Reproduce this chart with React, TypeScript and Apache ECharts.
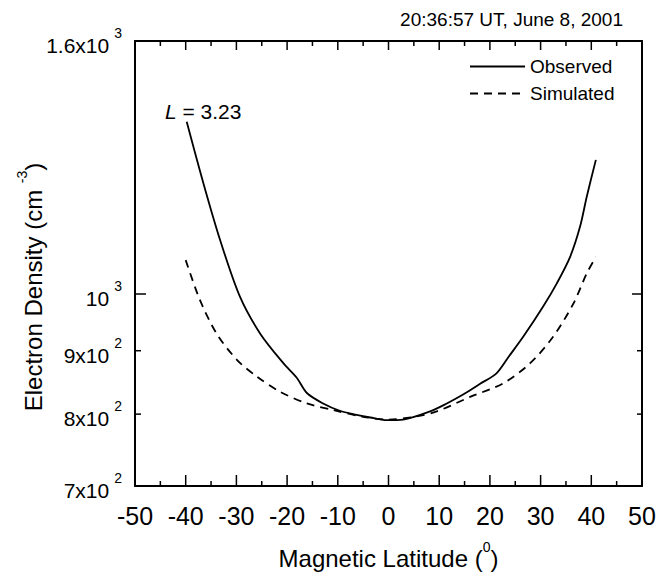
import React, { useEffect, useRef } from "react";
import * as echarts from "echarts";

const latObserved = [-39.8, -36.5, -33.2, -29.3, -25.3, -20.7, -18.1, -16.1, -12.9, -9.6, -6.3, -3.6, -0.35, 2.9, 8.2, 11.5, 14.8, 18.0, 21.3, 23.7, 26.6, 30.5, 33.2, 35.8, 37.8, 39.1, 40.9];
const densObserved = [1377, 1228, 1105, 995, 929, 879, 856, 832, 816, 805, 799, 795, 791, 792, 804, 816, 830, 846, 863, 890, 924, 977, 1020, 1071, 1134, 1198, 1283];

const latSimulated = [-40, -37.2, -33.9, -29.9, -26, -21.4, -16.1, -10.9, -5, 0, 5, 9.5, 16.1, 22.6, 27.9, 32.5, 36.5, 39.1, 40.9];
const densSimulated = [1065, 989, 929, 885, 858, 834, 816, 806, 796, 792, 796, 804, 826, 847, 879, 924, 983, 1039, 1071];

const yTickValues = [700, 800, 900, 1000, 1600];
const yTickMantissa = ["7x10", "8x10", "9x10", "10", "1.6x10"];
const yTickExponent = ["2", "2", "2", "3", "3"];
const yMajorTicks = [1000];
const yMinorTicks = [800, 900];
const xMajorTicks = [-50, -40, -30, -20, -10, 0, 10, 20, 30, 40, 50];
const xMinorTicks = [-45, -35, -25, -15, -5, 5, 15, 25, 35, 45];

const seriesNames = ["Observed", "Simulated"];
const titleText = "20:36:57 UT, June 8, 2001";
const shellLabel = "3.23";

const FONT = "'Liberation Sans', Arial, Helvetica, sans-serif";

function zip(xs: number[], ys: number[]) {
  return xs.map((x, i) => [x, ys[i]]);
}

export default function App() {
  const ref = useRef<HTMLDivElement>(null);
  useEffect(() => {
    if (!ref.current) return;
    const chart = echarts.init(ref.current, null, { renderer: "svg" });
    const supRich = (base: number, sup: number, lh: number, gap = 0) => ({
      b: { fontSize: base, lineHeight: lh, verticalAlign: "bottom", color: "#000", fontFamily: FONT },
      s: { fontSize: sup, lineHeight: sup, verticalAlign: "top", color: "#000", fontFamily: FONT, padding: [0, 0, 0, gap] },
    });
    const frameLine = () => ({ show: true, onZero: false, lineStyle: { color: "#000", width: 2 } });
    const yMin = 700;
    const yMax = 1600;
    const xMin = -50;
    const xMax = 50;

    const textGraphics: any[] = [
      {
        type: "text",
        left: 165,
        top: 101,
        style: {
          text: `{i|L} = ${shellLabel}`,
          fontSize: 21,
          fontFamily: FONT,
          fill: "#000",
          rich: { i: { fontStyle: "italic", fontSize: 21, fontFamily: FONT } },
        },
      },
      {
        type: "text",
        x: 30,
        y: 287,
        rotation: Math.PI / 2,
        style: {
          text: "{b|Electron Density (cm }{s|-3}{b|)}",
          align: "center",
          verticalAlign: "middle",
          rich: supRich(24, 14, 30),
        },
      },
    ];

    const option: any = {
      animation: false,
      backgroundColor: "#fff",
      title: {
        text: titleText,
        right: 47,
        top: 10,
        padding: 0,
        textStyle: { fontSize: 19, fontWeight: "normal", color: "#000", fontFamily: FONT },
      },
      legend: {
        data: seriesNames,
        orient: "vertical",
        left: 464,
        top: 52,
        itemWidth: 55,
        itemHeight: 14,
        itemGap: 8,
        itemStyle: { opacity: 0 },
        textStyle: { fontSize: 19, color: "#000", fontFamily: FONT },
      },
      grid: { left: 135, top: 41, width: 507, height: 445, containLabel: false, outerBoundsMode: "none" },
      xAxis: [
        {
          type: "value",
          min: xMin,
          max: xMax,
          interval: 10,
          position: "bottom",
          splitLine: { show: false },
          axisLine: frameLine(),
          axisTick: { show: false },
          axisLabel: { fontSize: 25, color: "#000", fontFamily: FONT, margin: 17 },
          name: "{b|Magnetic Latitude (}{s|0}{b|)}",
          nameLocation: "middle",
          nameGap: 54,
          nameTextStyle: { rich: supRich(24, 14, 30) },
        },
        {
          type: "value",
          min: xMin,
          max: xMax,
          interval: 10,
          position: "top",
          splitLine: { show: false },
          axisLine: frameLine(),
          axisTick: { show: false },
          axisLabel: { show: false },
        },
      ],
      yAxis: [
        {
          type: "log",
          logBase: 10,
          min: yMin,
          max: yMax,
          position: "left",
          splitLine: { show: false },
          axisLine: frameLine(),
          axisTick: { show: false },
          axisLabel: {
            customValues: yTickValues,
            margin: 13,
            formatter: (v: number) => {
              let idx = 0;
              let best = Infinity;
              yTickValues.forEach((t, i) => {
                const d = Math.abs(t - v);
                if (d < best) {
                  best = d;
                  idx = i;
                }
              });
              return `{b|${yTickMantissa[idx]}}{s|${yTickExponent[idx]}}`;
            },
            rich: supRich(21, 14, 30, 5),
          },
        },
        {
          type: "log",
          logBase: 10,
          min: yMin,
          max: yMax,
          position: "right",
          splitLine: { show: false },
          axisLine: frameLine(),
          axisTick: { show: false },
          axisLabel: { show: false },
        },
      ],
      series: [
        {
          name: seriesNames[0],
          type: "line",
          xAxisIndex: 0,
          yAxisIndex: 0,
          data: zip(latObserved, densObserved),
          symbol: "none",
          showSymbol: false,
          smooth: 0.3,
          lineStyle: { color: "#000", width: 1.8, type: "solid" },
          itemStyle: { color: "#000" },
        },
        {
          name: seriesNames[1],
          type: "line",
          xAxisIndex: 0,
          yAxisIndex: 0,
          data: zip(latSimulated, densSimulated),
          symbol: "none",
          showSymbol: false,
          smooth: 0.3,
          lineStyle: { color: "#000", width: 1.8, type: [8, 6] },
          itemStyle: { color: "#000" },
        },
      ],
      graphic: textGraphics,
    };
    chart.setOption(option);

    // Tick marks: pixel positions come from the chart's own layout and axis scales.
    const conv = (x: number, y: number): number[] => {
      const p: any = chart.convertToPixel({ gridIndex: 0 } as any, [x, y]);
      return Array.isArray(p) ? [Number(p[0]), Number(p[1])] : [NaN, NaN];
    };
    // frame edges from the grid's computed rectangle (falls back to interior conversions)
    let gx0 = NaN, gx1 = NaN, gy0 = NaN, gy1 = NaN;
    try {
      const rect = (chart as any).getModel().getComponent("grid", 0).coordinateSystem.getRect();
      gx0 = rect.x;
      gx1 = rect.x + rect.width;
      gy0 = rect.y;
      gy1 = rect.y + rect.height;
    } catch (e) {
      // ignore
    }
    if (!isFinite(gx0) || !isFinite(gy1)) {
      const a = conv(xMin, yMin);
      const b = conv(xMax, yMax);
      gx0 = a[0];
      gy1 = a[1];
      gx1 = b[0];
      gy0 = b[1];
    }
    const xPx = (x: number) => conv(x, 1000)[0];
    const yPx = (y: number) => conv(0, y)[1];
    const seg = (x1: number, y1: number, x2: number, y2: number) => ({
      type: "line",
      silent: true,
      z: 100,
      shape: { x1, y1, x2, y2 },
      style: { stroke: "#000", lineWidth: 1.5, fill: null },
    });
    const ticks: any[] = [];
    xMajorTicks.forEach((x) => {
      const px = xPx(x);
      ticks.push(seg(px, gy1, px, gy1 - 11));
      ticks.push(seg(px, gy0, px, gy0 + 9));
    });
    xMinorTicks.forEach((x) => {
      const px = xPx(x);
      ticks.push(seg(px, gy1, px, gy1 - 5));
      ticks.push(seg(px, gy0, px, gy0 + 5));
    });
    yMajorTicks.forEach((y) => {
      const py = yPx(y);
      ticks.push(seg(gx0, py, gx0 + 11, py));
      ticks.push(seg(gx1, py, gx1 - 10, py));
    });
    yMinorTicks.forEach((y) => {
      const py = yPx(y);
      ticks.push(seg(gx0, py, gx0 + 6, py));
      ticks.push(seg(gx1, py, gx1 - 5, py));
    });
    chart.setOption({ graphic: [...textGraphics, ...ticks] });

    return () => chart.dispose();
  }, []);
  return <div ref={ref} style={{ position: "fixed", left: 0, top: 0, width: 670, height: 572 }} />;
}
